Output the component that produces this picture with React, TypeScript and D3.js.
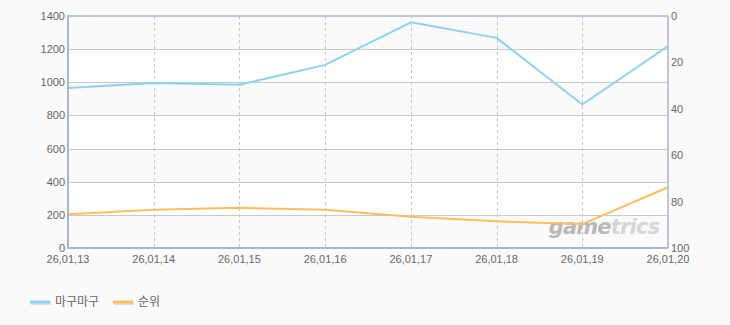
import React from "react";
import * as d3 from "d3";

const categories = ["26,01,13", "26,01,14", "26,01,15", "26,01,16", "26,01,17", "26,01,18", "26,01,19", "26,01,20"];
const seriesValues = [966, 995, 985, 1105, 1362, 1268, 866, 1218];
const rankValues = [85.5, 83.5, 82.7, 83.5, 86.5, 88.5, 89.7, 73.8];
const leftTicks = [0, 200, 400, 600, 800, 1000, 1200, 1400];
const rightTicks = [0, 20, 40, 60, 80, 100];
const seriesNames = ["마구마구", "순위"];

const W = 730, H = 325;
const L = 68, R = 668, T = 16, B = 248;
const BLUE = "#8fd0f1";
const ORANGE = "#fbbe5c";
const FONT = "'Liberation Sans', Arial, sans-serif";

export default function App() {
  const x = d3.scalePoint<string>().domain(categories).range([L, R]);
  const yL = d3.scaleLinear().domain([0, 1400]).range([B, T]);
  const yR = d3.scaleLinear().domain([0, 100]).range([T, B]);
  const lineL = d3.line<number>().x((_, i) => x(categories[i])!).y((d) => yL(d));
  const lineR = d3.line<number>().x((_, i) => x(categories[i])!).y((d) => yR(d));

  return (
    <svg width={W} height={H} style={{ position: "absolute", left: 0, top: 0, background: "#fafafa" }}>
      <rect x={0} y={0} width={W} height={H} fill="#fafafa" />
      {leftTicks.slice(0, -1).map((t, i) => (
        <rect key={"b" + t} x={L} y={yL(leftTicks[i + 1])} width={R - L} height={yL(t) - yL(leftTicks[i + 1])}
          fill={i % 2 === 0 ? "#fafafa" : "#ffffff"} />
      ))}
      {leftTicks.slice(1, -1).map((t) => (
        <line key={"g" + t} x1={L} x2={R} y1={Math.round(yL(t)) + 0.5} y2={Math.round(yL(t)) + 0.5} stroke="#c8c8c8" strokeWidth={1} />
      ))}
      {categories.slice(1, -1).map((c) => (
        <line key={"v" + c} x1={Math.round(x(c)!) + 0.5} x2={Math.round(x(c)!) + 0.5} y1={T} y2={B} stroke="#c4c4c4" strokeWidth={1} strokeDasharray="3,3" />
      ))}
      <text x={604} y={234} textAnchor="middle" fontFamily="'DejaVu Sans', sans-serif" fontWeight="bold" fontStyle="italic" fontSize={21} letterSpacing={-0.8}>
        <tspan fill="#b8b8b8">game</tspan><tspan fill="#d6d6d6">trics</tspan>
      </text>
      <path d={lineL(seriesValues)!} fill="none" stroke={BLUE} strokeWidth={2} strokeLinejoin="round" />
      <path d={lineR(rankValues)!} fill="none" stroke={ORANGE} strokeWidth={2} strokeLinejoin="round" />
      <line x1={L} x2={R} y1={T} y2={T} stroke="#b8c8da" strokeWidth={2} />
      <line x1={R} x2={R} y1={T} y2={B} stroke="#b8c8da" strokeWidth={2} />
      <line x1={L} x2={R} y1={B} y2={B} stroke="#a8b8cc" strokeWidth={2} />
      <line x1={L} x2={L} y1={T - 1} y2={B + 1} stroke="#a8b8cc" strokeWidth={2} />
      {leftTicks.map((t) => (
        <text key={"l" + t} x={65} y={yL(t) + 4} textAnchor="end" fontFamily={FONT} fontSize={11} fill="#666">{t}</text>
      ))}
      {rightTicks.map((t) => (
        <text key={"r" + t} x={671} y={yR(t) + 4} textAnchor="start" fontFamily={FONT} fontSize={11} fill="#666">{t}</text>
      ))}
      {categories.map((c) => (
        <text key={"x" + c} x={x(c)!} y={263} textAnchor="middle" fontFamily={FONT} fontSize={11} fill="#666">{c}</text>
      ))}
      <g>
        <rect x={31} y={302} width={20} height={3} fill="#dcdcdc" />
        <rect x={30} y={300.5} width={20} height={3} fill={BLUE} />
        <text x={55} y={306} fontFamily="'Noto Sans CJK KR', sans-serif" fontSize={12} fill="#666">{seriesNames[0]}</text>
        <rect x={114} y={302} width={20} height={3} fill="#dcdcdc" />
        <rect x={113} y={300.5} width={20} height={3} fill={ORANGE} />
        <text x={138} y={306} fontFamily="'Noto Sans CJK KR', sans-serif" fontSize={12} fill="#666">{seriesNames[1]}</text>
      </g>
    </svg>
  );
}
